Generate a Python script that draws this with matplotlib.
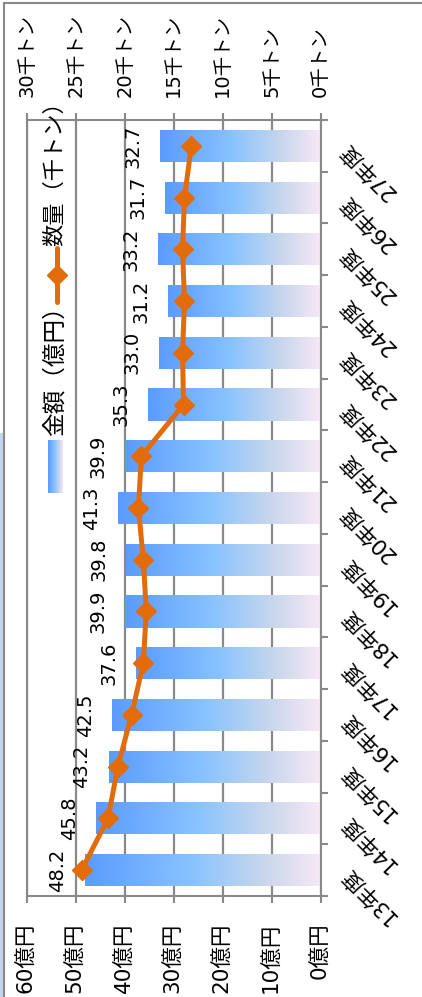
import numpy as np
import matplotlib.pyplot as plt
from matplotlib.colors import LinearSegmentedColormap
from matplotlib.lines import Line2D
from matplotlib.patches import Rectangle

plt.rcParams['font.family'] = ['DejaVu Sans', 'Noto Sans CJK JP']

years = ['13年度', '14年度', '15年度', '16年度', '17年度', '18年度', '19年度', '20年度',
         '21年度', '22年度', '23年度', '24年度', '25年度', '26年度', '27年度']
amount = [48.2, 45.8, 43.2, 42.5, 37.6, 39.9, 39.8, 41.3, 39.9, 35.3, 33.0, 31.2, 33.2, 31.7, 32.7]
volume = [24.4, 21.7, 20.7, 19.3, 18.1, 17.8, 18.1, 18.6, 18.3, 14.0, 14.1, 13.9, 14.1, 13.9, 13.2]
yen_ticks = [0, 10, 20, 30, 40, 50, 60]
ton_ticks = [0, 5, 10, 15, 20, 25, 30]

GRAY = '#898989'
ORANGE = '#E36C0A'
W, H = 422, 997
cmap = LinearSegmentedColormap.from_list(
    'bar', [(0, '#5B9BFF'), (0.45, '#88C3FF'), (0.75, '#C7D6EC'), (1, '#F8E8F6')])
grad = np.linspace(0, 1, 256).reshape(1, -1)

fig = plt.figure(figsize=(W / 100, H / 100), dpi=100)
ax = fig.add_axes([26.7 / W, 1 - 896 / H, 294 / W, 776 / H])

y = np.arange(len(years))
bh = 0.62
bars = ax.barh(y, amount, height=bh, color='none', zorder=2)
for bar, v, yi in zip(bars, amount, y):
    im = ax.imshow(grad, cmap=cmap, aspect='auto', interpolation='bilinear',
                   extent=(v, 0, yi - bh / 2, yi + bh / 2), zorder=2)
    im.set_clip_path(bar)

ax.set_xlim(60, 0)
ax.set_ylim(-0.5, len(years) - 0.5)
ax.set_xticks(yen_ticks)
ax.set_xticklabels([f'{t}億円' for t in yen_ticks], rotation=90)
ax.tick_params(axis='x', direction='out', length=5, width=1.5, color=GRAY, pad=14, labelsize=15.5)
ax.grid(axis='x', color=GRAY, lw=1.6, zorder=0)
ax.set_axisbelow(True)

# category axis on the right
ax.yaxis.tick_right()
ax.set_yticks(np.arange(-0.5, len(years)), labels=[])
ax.tick_params(axis='y', direction='out', length=5, width=1.5, color=GRAY)
for yi, name in zip(y, years):
    ax.annotate(name, xy=(1, yi), xycoords=('axes fraction', 'data'), xytext=(16, 0),
                textcoords='offset points', rotation=135, rotation_mode='anchor',
                ha='right', va='center', fontsize=15.5)

for s in ax.spines.values():
    s.set_color(GRAY)
    s.set_linewidth(1.5)
ax.spines['top'].set_visible(False)

ax2 = ax.twiny()
ax2.set_xlim(30, 0)
ax2.set_xticks(ton_ticks)
ax2.set_xticklabels([f'{t}千トン' for t in ton_ticks], rotation=90)
ax2.tick_params(axis='x', direction='out', length=5, width=1.5, color=GRAY, pad=11.5, labelsize=14)
for name, s in ax2.spines.items():
    s.set_visible(name == 'top')
    s.set_color(GRAY)
    s.set_linewidth(1.5)

ax2.plot(volume, y, color=ORANGE, lw=3.6, marker='D', ms=10, solid_joinstyle='round')

for v, yi in zip(amount, y):
    ax2.annotate(f'{v:.1f}', xy=(v, yi), xycoords=ax.transData, xytext=(-19.5, 0),
                 textcoords='offset points', rotation=90, ha='center', va='center',
                 fontsize=14)

# legend (rotated with the chart)
fig.text(55 / W, 1 - 436 / H, '金額（億円）', rotation=90, ha='center', va='bottom', fontsize=17)
fig.text(55 / W, 1 - 246 / H, '数量（千トン）', rotation=90, ha='center', va='bottom', fontsize=16)
fig.add_artist(Line2D([57 / W, 57 / W], [1 - 248 / H, 1 - 302 / H], transform=fig.transFigure,
                      color=ORANGE, lw=3.6, solid_capstyle='round'))
fig.add_artist(Line2D([57 / W], [1 - 275 / H], transform=fig.transFigure,
                      color=ORANGE, marker='D', ms=10))
lax = fig.add_axes([48 / W, 1 - 493 / H, 15 / W, 53 / H])
lax.imshow(grad, cmap=cmap, aspect='auto', interpolation='bilinear')
lax.axis('off')

# outer frame bits
fig.add_artist(Rectangle((0, 0), 3.3 / W, 1 - 433 / H, transform=fig.transFigure,
                         color='#C5D5EB', lw=0))
fig.add_artist(Line2D([4 / W, 4 / W], [0, 1 - 3 / H], transform=fig.transFigure, color=GRAY, lw=1.5))
fig.add_artist(Line2D([4 / W, 1], [1 - 3 / H, 1 - 3 / H], transform=fig.transFigure, color=GRAY, lw=1.5))

fig.savefig('out.png', dpi=100)
